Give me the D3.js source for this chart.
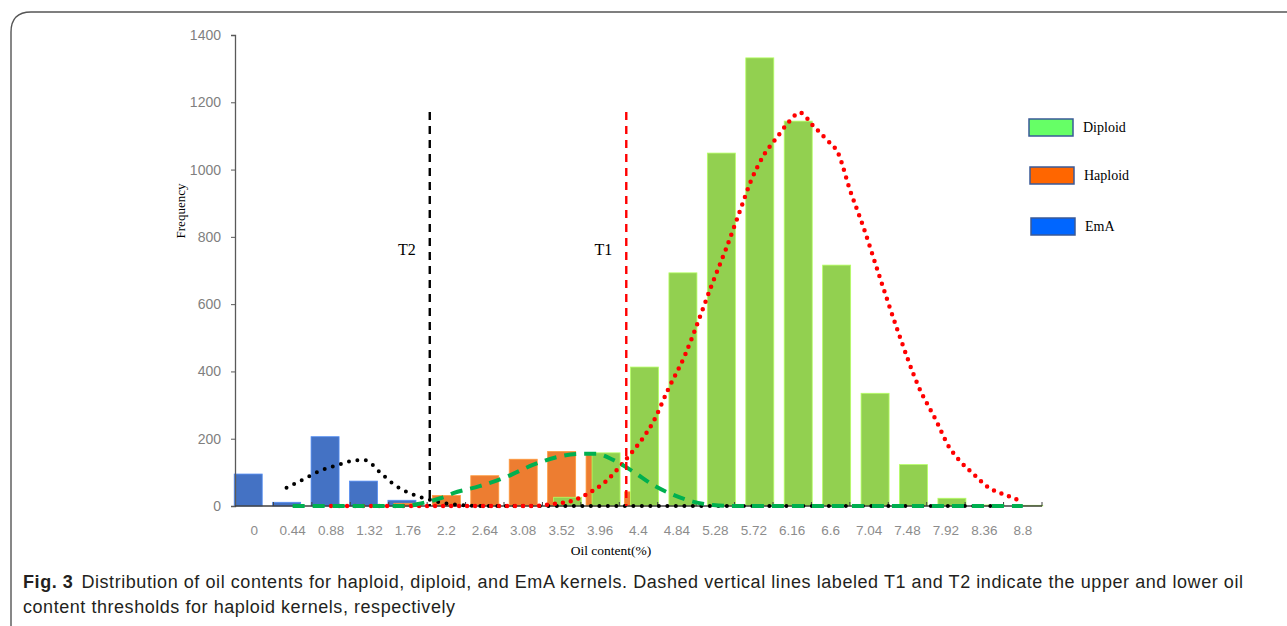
<!DOCTYPE html>
<html>
<head>
<meta charset="utf-8">
<script src="https://cdn.jsdelivr.net/npm/d3@7"></script>
<style>
body { margin: 0; background: #fff; }
</style>
</head>
<body>
<div id="chart"></div>
<script>
var categories = ["0", "0.44", "0.88", "1.32", "1.76", "2.2", "2.64", "3.08", "3.52", "3.96", "4.4",
    "4.84", "5.28", "5.72", "6.16", "6.6", "7.04", "7.48", "7.92", "8.36", "8.8"];
var seriesNames = ["EmA", "Haploid", "Diploid"];
var emaValues = [95, 11, 206, 74, 17, 0, 0, 0, 0, 0, 0, 0, 0, 0, 0, 0, 0, 0, 0, 0, 0];
var haploidValues = [0, 0, 0, 0, 8, 31, 90, 139, 162, 155, 42, 0, 0, 0, 0, 0, 0, 0, 0, 0, 0];
var diploidValues = [0, 0, 0, 0, 0, 0, 0, 0, 26, 158, 413, 693, 1049, 1332, 1144, 716, 335, 123, 23, 3, 2];
var yTicks = [0, 200, 400, 600, 800, 1000, 1200, 1400];

// fitted curves, [oil content, frequency]
var emaCurve = [[0.37, 54], [0.56, 79], [0.75, 104], [0.96, 122], [1.17, 136], [1.27, 136], [1.44, 100],
    [1.60, 64], [1.79, 37], [2.0, 19], [2.21, 7], [2.42, 2], [2.6, 0], [8.6, 0]];
var haploidCurve = [[0.44, 0], [1.76, 0], [1.86, 5], [2.13, 23], [2.28, 38], [2.58, 59], [2.89, 87],
    [3.19, 122], [3.46, 145], [3.73, 155], [3.92, 155], [4.11, 137], [4.34, 102], [4.57, 62],
    [4.80, 33], [5.02, 13], [5.25, 3], [5.5, 0], [8.8, 0]];
var diploidCurve = [[0.88, 0], [3.2, 0], [3.42, 6], [3.65, 16], [3.84, 40], [4.02, 72], [4.19, 118],
    [4.31, 155], [4.44, 198], [4.56, 246], [4.74, 347], [4.93, 447], [5.09, 553], [5.24, 658],
    [5.40, 763], [5.55, 869], [5.70, 974], [5.85, 1049], [5.98, 1094], [6.11, 1138], [6.25, 1169],
    [6.40, 1130], [6.55, 1090], [6.69, 1046], [6.82, 940], [6.97, 833], [7.17, 674], [7.38, 512],
    [7.61, 353], [7.81, 253], [7.95, 178], [8.08, 134], [8.24, 94], [8.40, 56], [8.60, 33], [8.8, 13]];
var thresholds = [{name: "T2", value: 2.01, color: "#000000"}, {name: "T1", value: 4.26, color: "#ff0000"}];

function init() {
    var width = 1287;
    var height = 626;

    var svg = d3.select("#chart")
        .append("svg")
        .attr("width", width)
        .attr("height", height);

    // figure frame (only the top-left corner is in view)
    svg.append("path")
        .attr("d", "M11," + (height + 5) + " L11,32 Q11,12 31,12 L" + (width + 5) + ",12")
        .attr("fill", "none")
        .attr("stroke", "#555")
        .attr("stroke-width", 1.4);

    var xScale = d3.scaleBand()
        .domain(categories)
        .range([235, 1042]);

    var yScale = d3.scaleLinear()
        .domain([0, 1400])
        .range([506, 35]);

    var offset = d3.scalePoint()
        .domain(seriesNames)
        .range([-6, 6]);

    var oilScale = d3.scaleLinear()
        .domain([0, 8.8])
        .range([xScale("0") + xScale.bandwidth() / 2, xScale("8.8") + xScale.bandwidth() / 2]);

    var barWidth = 28;
    var barData = [
        {name: "EmA", values: emaValues, color: "#4472c4"},
        {name: "Haploid", values: haploidValues, color: "#ed7d31"},
        {name: "Diploid", values: diploidValues, color: "#92d050"}
    ];

    barData.forEach(function(s) {
        svg.append("g")
            .selectAll("rect")
            .data(s.values)
            .enter()
            .append("rect")
            .attr("x", function(d, i) {
                return xScale(categories[i]) + xScale.bandwidth() / 2 + offset(s.name) - barWidth / 2;
            })
            .attr("y", function(d) { return yScale(d); })
            .attr("width", barWidth)
            .attr("height", function(d) { return yScale(0) - yScale(d); })
            .attr("fill", s.color)
            .attr("stroke", d3.color(s.color).brighter(0.6))
            .attr("stroke-width", 0.8);
    });

    // y axis
    var yAxis = d3.axisLeft(yScale)
        .tickValues(yTicks)
        .tickFormat(d3.format("d"))
        .tickSize(4)
        .tickPadding(10);

    var gy = svg.append("g")
        .attr("transform", "translate(235,0)")
        .call(yAxis);
    gy.select(".domain").attr("stroke", "#595959").attr("stroke-width", 1.3);
    gy.selectAll(".tick line").attr("stroke", "#595959");
    gy.selectAll("text")
        .attr("font-family", "Liberation Sans, Arial, sans-serif")
        .attr("font-size", "14px")
        .attr("fill", "#7f7f7f");

    // x axis: ticks sit between the categories
    var gx = svg.append("g")
        .attr("transform", "translate(0,506)");
    gx.append("line")
        .attr("x1", 235).attr("x2", 1042)
        .attr("stroke", "#404040")
        .attr("stroke-width", 1.5);
    gx.selectAll(".xtick")
        .data(categories)
        .enter()
        .append("line")
        .attr("class", "xtick")
        .attr("x1", function(d) { return xScale(d) + xScale.bandwidth(); })
        .attr("x2", function(d) { return xScale(d) + xScale.bandwidth(); })
        .attr("y1", 0).attr("y2", -4)
        .attr("stroke", "#404040");
    gx.selectAll(".xlabel")
        .data(categories)
        .enter()
        .append("text")
        .attr("class", "xlabel")
        .attr("x", function(d) { return xScale(d) + xScale.bandwidth() / 2; })
        .attr("y", 29)
        .attr("text-anchor", "middle")
        .attr("font-family", "Liberation Sans, Arial, sans-serif")
        .attr("font-size", "13.5px")
        .attr("fill", "#8c8c8c")
        .text(function(d) { return d; });

    // fitted curves
    var line = d3.line()
        .x(function(d) { return oilScale(d[0]); })
        .y(function(d) { return yScale(d[1]); })
        .curve(d3.curveMonotoneX);

    svg.append("path")
        .datum(emaCurve)
        .attr("d", line)
        .attr("fill", "none")
        .attr("stroke", "#000")
        .attr("stroke-width", 4)
        .attr("stroke-linecap", "round")
        .attr("stroke-dasharray", "0 8.5");

    svg.append("path")
        .datum(diploidCurve)
        .attr("d", line)
        .attr("fill", "none")
        .attr("stroke", "#ff0000")
        .attr("stroke-width", 4.5)
        .attr("stroke-linecap", "round")
        .attr("stroke-dasharray", "0 8");

    svg.append("path")
        .datum(haploidCurve)
        .attr("d", line)
        .attr("fill", "none")
        .attr("stroke", "#00b050")
        .attr("stroke-width", 4)
        .attr("stroke-dasharray", "12 8");

    // threshold lines
    thresholds.forEach(function(t) {
        svg.append("line")
            .attr("x1", oilScale(t.value)).attr("x2", oilScale(t.value))
            .attr("y1", 112).attr("y2", 506)
            .attr("stroke", t.color)
            .attr("stroke-width", 2.4)
            .attr("stroke-dasharray", "8 6");
        svg.append("text")
            .attr("x", oilScale(t.value) - 14)
            .attr("y", 255)
            .attr("text-anchor", "end")
            .attr("font-family", "Liberation Serif, Times New Roman, serif")
            .attr("font-size", "16px")
            .attr("fill", "#000")
            .text(t.name);
    });

    // legend
    var legendItems = [
        {name: "Diploid", color: "#66ff66", x: 1029, y: 119},
        {name: "Haploid", color: "#ff6600", x: 1030, y: 167},
        {name: "EmA", color: "#0066ff", x: 1031, y: 218}
    ];
    var legend = svg.selectAll(".legend")
        .data(legendItems)
        .enter()
        .append("g")
        .attr("class", "legend")
        .attr("transform", function(d) { return "translate(" + d.x + "," + d.y + ")"; });
    legend.append("rect")
        .attr("width", 44)
        .attr("height", 17)
        .attr("fill", function(d) { return d.color; })
        .attr("stroke", "#3a5a98")
        .attr("stroke-width", 1.5);
    legend.append("text")
        .attr("x", 54)
        .attr("y", 13)
        .attr("font-family", "Liberation Serif, Times New Roman, serif")
        .attr("font-size", "14px")
        .attr("fill", "#000")
        .text(function(d) { return d.name; });

    // axis titles
    svg.append("text")
        .attr("transform", "translate(185,211) rotate(-90)")
        .attr("text-anchor", "middle")
        .attr("font-family", "Liberation Serif, Times New Roman, serif")
        .attr("font-size", "13px")
        .attr("fill", "#000")
        .text("Frequency");

    svg.append("text")
        .attr("x", 611)
        .attr("y", 555)
        .attr("text-anchor", "middle")
        .attr("font-family", "Liberation Serif, Times New Roman, serif")
        .attr("font-size", "13.5px")
        .attr("fill", "#000")
        .text("Oil content(%)");

    // caption
    var cap1 = svg.append("text")
        .attr("x", 23)
        .attr("y", 588)
        .attr("font-family", "Liberation Sans, Arial, sans-serif")
        .attr("font-size", "18px")
        .attr("fill", "#231f20")
        .attr("textLength", 1220)
        .attr("lengthAdjust", "spacing");
    cap1.append("tspan").attr("font-weight", "bold").text("Fig. 3");
    cap1.append("tspan").attr("dx", 8)
        .text("Distribution of oil contents for haploid, diploid, and EmA kernels. Dashed vertical lines labeled T1 and T2 indicate the upper and lower oil");

    svg.append("text")
        .attr("x", 23)
        .attr("y", 613)
        .attr("font-family", "Liberation Sans, Arial, sans-serif")
        .attr("font-size", "18px")
        .attr("fill", "#231f20")
        .attr("textLength", 432)
        .attr("lengthAdjust", "spacing")
        .text("content thresholds for haploid kernels, respectively");
}
window.onload = init;
</script>
</body>
</html>
